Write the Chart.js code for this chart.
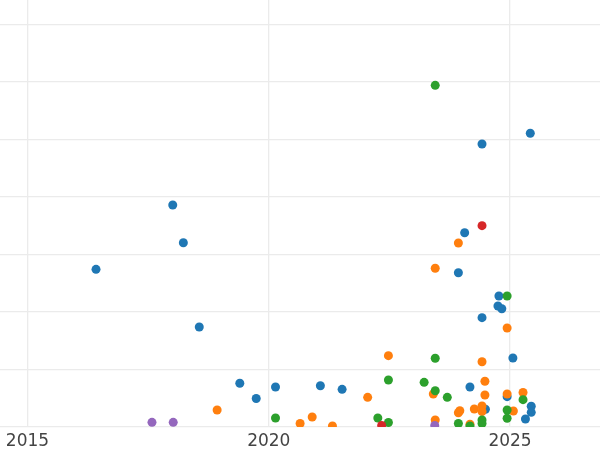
<!DOCTYPE html>
<html>
<head>
<meta charset="utf-8">
<script src="https://cdn.jsdelivr.net/npm/chart.js@4/dist/chart.umd.min.js"></script>
<style>
  html, body { margin: 0; padding: 0; background: #fff; }
  canvas { display: block; }
</style>
</head>
<body>
<canvas id="chart" width="600" height="450"></canvas>
<script>
"use strict"

// tick positions (x: years, y: grid steps, y labels are not shown)
const xTicks = [2015, 2020, 2025];
const yTicks = [0, 10, 20, 30, 40, 50, 60, 70];

// series colours, in drawing order (later ones end up on top)
const seriesColors = ['#1f77b4', '#ff7f0e', '#2ca02c', '#d62728', '#9467bd'];

// each series: [year, value] pairs
const blueSeries = [
    [2016.42, 27.44], [2018.01, 38.63], [2018.23, 32.07], [2018.56, 17.41],
    [2019.40, 7.62], [2019.74, 4.97], [2020.14, 6.97], [2021.07, 7.20],
    [2021.52, 6.57], [2023.93, 26.85], [2024.06, 33.81], [2024.42, 49.23],
    [2024.42, 19.03], [2024.17, 6.97], [2024.49, 3.10], [2024.77, 22.80],
    [2024.75, 21.06], [2024.83, 20.59], [2024.94, 5.29], [2025.06, 12.02],
    [2025.42, 51.10], [2025.44, 3.62], [2025.44, 2.57], [2025.32, 1.41]
];
const orangeSeries = [
    [2018.93, 2.97], [2020.65, 0.63], [2020.90, 1.76], [2021.32, 0.19],
    [2022.05, 5.18], [2022.48, 12.42], [2023.45, 27.62], [2023.93, 32.02],
    [2023.41, 5.76], [2023.45, 1.23], [2023.93, 2.50], [2023.96, 2.85],
    [2024.17, 0.49], [2024.26, 3.15], [2024.42, 11.37], [2024.48, 7.97],
    [2024.48, 5.58], [2024.42, 3.67], [2024.42, 2.71], [2024.94, 17.23],
    [2024.94, 5.76], [2025.07, 2.80], [2025.27, 6.02]
];
const greenSeries = [
    [2023.45, 59.44], [2024.94, 22.80], [2020.14, 1.58], [2022.26, 1.58],
    [2022.48, 0.80], [2022.48, 8.19], [2023.22, 7.79], [2023.45, 6.33],
    [2023.70, 5.18], [2023.45, 11.97], [2023.93, 0.63], [2024.17, 0.19],
    [2024.42, 1.23], [2024.42, 0.63], [2024.94, 2.97], [2024.94, 1.53],
    [2025.27, 4.77]
];
const redSeries = [
    [2024.42, 35.03], [2022.34, 0.30]
];
const purpleSeries = [
    [2017.58, 0.83], [2018.02, 0.83], [2023.44, 0.30]
];

const allSeries = [blueSeries, orangeSeries, greenSeries, redSeries, purpleSeries];

// chart.js draws the first dataset on top, so reverse with `order`
const datasets = allSeries.map(function(series, i){
    return {
        data: series.map(function(p){ return {x: p[0], y: p[1]}; }),
        backgroundColor: seriesColors[i],
        borderWidth: 0,
        pointRadius: 4.5,
        pointHoverRadius: 4.5,
        order: allSeries.length - i
    };
});

const gridColor = '#ebebeb';

new Chart('chart', {
    type: 'scatter',
    data: { datasets: datasets },
    options: {
        responsive: false,
        devicePixelRatio: 1,
        animation: false,
        // no room reserved for the points: the plot runs to the canvas edges
        layout: { padding: 0, autoPadding: false },
        plugins: {
            legend: { display: false },
            tooltip: { enabled: false }
        },
        scales: {
            x: {
                type: 'linear',
                min: 2014.43,
                max: 2026.865,
                afterBuildTicks: function(scale){
                    scale.ticks = xTicks.map(function(v){ return {value: v}; });
                },
                // keep the axis strip thin, labels still sit a bit lower
                afterFit: function(scale){
                    scale.height = 22.9;
                },
                grid: { color: gridColor, lineWidth: 1.3, drawTicks: false },
                border: { display: false },
                ticks: {
                    color: '#444',
                    font: { family: 'DejaVu Sans', size: 17 },
                    padding: 4.5,
                    maxRotation: 0,
                    autoSkip: false,
                    callback: function(v){ return String(v); }
                }
            },
            y: {
                min: 0,
                max: 74.28,
                afterBuildTicks: function(scale){
                    scale.ticks = yTicks.map(function(v){ return {value: v}; });
                },
                grid: { color: gridColor, lineWidth: 1.3, drawTicks: false },
                border: { display: false },
                ticks: { display: false }
            }
        }
    }
});
</script>
</body>
</html>
